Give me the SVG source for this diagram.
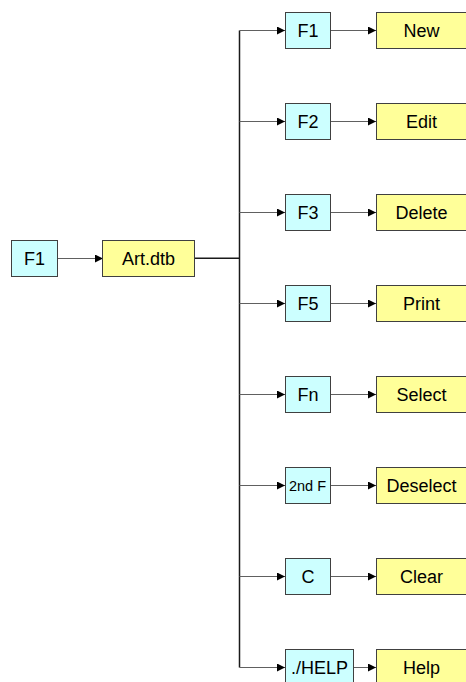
<svg xmlns="http://www.w3.org/2000/svg" width="466" height="682" viewBox="0 0 466 682">
<style>
.k{fill:#CCFFFF;stroke:#404040;stroke-width:1}
.a{fill:#FFFF99;stroke:#404040;stroke-width:1}
.t{font-family:"Liberation Sans",Arial,sans-serif;font-size:18px;fill:#000;text-anchor:middle;dominant-baseline:central}
.s{font-size:14.5px}
.c{fill:none;stroke:#606060;stroke-width:1}
.d{fill:none;stroke:#1a1a1a;stroke-width:1.5}
</style>
<defs>
<marker id="ah" viewBox="0 0 10 10" refX="10" refY="5" markerWidth="9" markerHeight="8" markerUnits="userSpaceOnUse" orient="auto">
<path d="M0,0 L10,5 L0,10 Z" fill="#000"/>
</marker>
</defs>
<g id="connectors">
<path class="c" d="M57.5,258.5 H103" stroke="#1a1a1a" marker-end="url(#ah)"/>
<path class="d" d="M194.5,258.25 H239.5"/>
<path class="d" d="M239.5,30.5 V667.5"/>
<path class="c" d="M239.5,30.5 H285" marker-end="url(#ah)"/>
<path class="c" d="M239.5,121.5 H285" marker-end="url(#ah)"/>
<path class="c" d="M239.5,212.5 H285" marker-end="url(#ah)"/>
<path class="c" d="M239.5,303.5 H285" marker-end="url(#ah)"/>
<path class="c" d="M239.5,394.5 H285" marker-end="url(#ah)"/>
<path class="c" d="M239.5,485.5 H285" marker-end="url(#ah)"/>
<path class="c" d="M239.5,576.5 H285" marker-end="url(#ah)"/>
<path class="c" d="M239.5,667.5 H285" marker-end="url(#ah)"/>
<path class="c" d="M331,30.5 H376" marker-end="url(#ah)"/>
<path class="c" d="M331,121.5 H376" marker-end="url(#ah)"/>
<path class="c" d="M331,212.5 H376" marker-end="url(#ah)"/>
<path class="c" d="M331,303.5 H376" marker-end="url(#ah)"/>
<path class="c" d="M331,394.5 H376" marker-end="url(#ah)"/>
<path class="c" d="M331,485.5 H376" marker-end="url(#ah)"/>
<path class="c" d="M331,576.5 H376" marker-end="url(#ah)"/>
<path class="c" d="M354,667.5 H376" marker-end="url(#ah)"/>
</g>
<g id="f1root"><rect class="k" x="11.5" y="240.5" width="46" height="36"/><text class="t" x="34.5" y="258.5">F1</text></g>
<g id="artdtb"><rect class="a" x="102.5" y="240.5" width="92" height="36"/><text class="t" x="148.5" y="258.5">Art.dtb</text></g>
<g id="k1"><rect class="k" x="285.5" y="12.5" width="45" height="36"/><text class="t" x="308" y="30.5">F1</text></g>
<g id="new"><rect class="a" x="376.5" y="12.5" width="92" height="36"/><text class="t" x="421.5" y="30.5">New</text></g>
<g id="k2"><rect class="k" x="285.5" y="103.5" width="45" height="36"/><text class="t" x="308" y="121.5">F2</text></g>
<g id="edit"><rect class="a" x="376.5" y="103.5" width="92" height="36"/><text class="t" x="421.5" y="121.5">Edit</text></g>
<g id="k3"><rect class="k" x="285.5" y="194.5" width="45" height="36"/><text class="t" x="308" y="212.5">F3</text></g>
<g id="delete"><rect class="a" x="376.5" y="194.5" width="92" height="36"/><text class="t" x="421.5" y="212.5">Delete</text></g>
<g id="k5"><rect class="k" x="285.5" y="285.5" width="45" height="36"/><text class="t" x="308" y="303.5">F5</text></g>
<g id="print"><rect class="a" x="376.5" y="285.5" width="92" height="36"/><text class="t" x="421.5" y="303.5">Print</text></g>
<g id="kfn"><rect class="k" x="285.5" y="376.5" width="45" height="36"/><text class="t" x="308" y="394.5">Fn</text></g>
<g id="select"><rect class="a" x="376.5" y="376.5" width="92" height="36"/><text class="t" x="421.5" y="394.5">Select</text></g>
<g id="k2nd"><rect class="k" x="285.5" y="467.5" width="45" height="36"/><text class="t s" x="307.5" y="485.5">2nd F</text></g>
<g id="deselect"><rect class="a" x="376.5" y="467.5" width="92" height="36"/><text class="t" x="421.5" y="485.5">Deselect</text></g>
<g id="kc"><rect class="k" x="285.5" y="558.5" width="45" height="36"/><text class="t" x="308" y="576.5">C</text></g>
<g id="clear"><rect class="a" x="376.5" y="558.5" width="92" height="36"/><text class="t" x="421.5" y="576.5">Clear</text></g>
<g id="khelp"><rect class="k" x="285.5" y="649.5" width="68" height="36"/><text class="t" x="319.5" y="667.5">./HELP</text></g>
<g id="help"><rect class="a" x="376.5" y="649.5" width="92" height="36"/><text class="t" x="421.5" y="667.5">Help</text></g>
</svg>
